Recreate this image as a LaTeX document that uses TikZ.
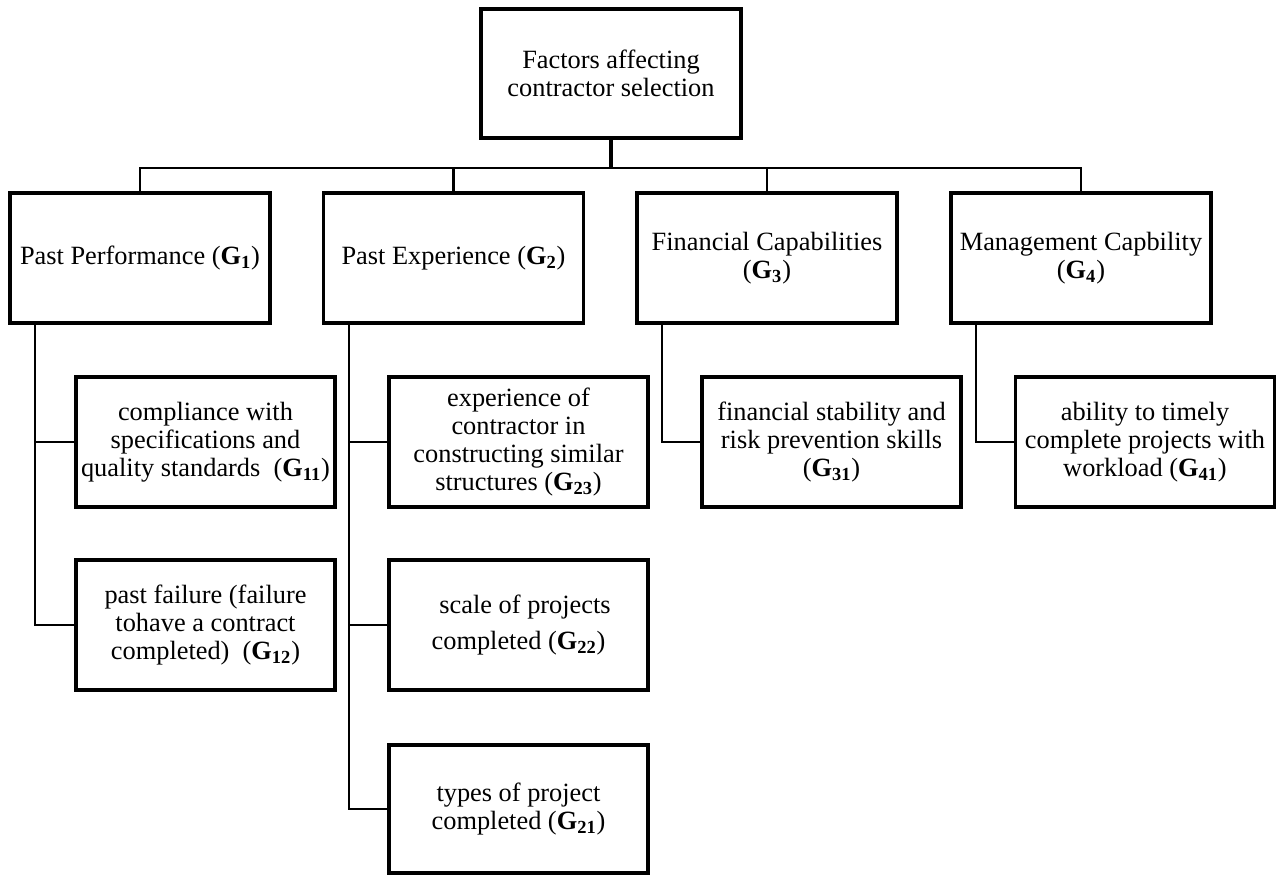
\documentclass[tikz,border=0pt]{standalone}
\usepackage{fontspec}
\setmainfont{Liberation Serif}
\usetikzlibrary{calc}

\newcommand{\gid}[1]{(\textbf{G\textsubscript{#1}})}

\begin{document}
\begin{tikzpicture}[
  box/.style={draw, line width=2.1pt, minimum width=5.2cm, minimum height=2.6cm,
    align=center, inner sep=2pt, font=\fontsize{15}{16}\selectfont},
  link/.style={line width=1.3pt},
  stem/.style={line width=2.1pt}]
\useasboundingbox (0,0) rectangle (25.54,-17.5);
% goal and the four criteria
\node[box, minimum height=2.58cm] (root) at (12.22,-1.47) {Factors affecting\\contractor selection};
\node[box] (pp) at (2.8,-5.16) {Past Performance \gid{1}};
\node[box] (pe) at (9.07,-5.16) {Past Experience \gid{2}};
\node[box] (fc) at (15.34,-5.16) {Financial Capabilities\\\gid{3}};
\node[box] (mc) at (21.62,-5.16) {Management Capbility\\\gid{4}};
% sub-criteria
\node[box, minimum width=5.18cm] (g11) at (4.11,-8.84) {compliance with\\specifications and\\quality standards\ \ \gid{11}};
\node[box, minimum width=5.18cm] (g12) at (4.11,-12.5) {past failure (failure\\tohave a contract\\completed)\ \ \gid{12}};
\node[box, minimum width=5.18cm] (g23) at (10.37,-8.84) {experience of\\contractor in\\constructing similar\\structures \gid{23}};
\node[box, minimum width=5.18cm] (g22) at (10.37,-12.5) {\ \ scale of projects\\[5pt]completed \gid{22}};
\node[box, minimum width=5.18cm, minimum height=2.56cm] (g21) at (10.37,-16.18) {types of project\\completed \gid{21}};
\node[box, minimum width=5.18cm] (g31) at (16.63,-8.84) {financial stability and\\risk prevention skills\\\gid{31}};
\node[box, minimum width=5.18cm] (g41) at (22.9,-8.84) {ability to timely\\complete projects with\\workload \gid{41}};
% connectors
\draw[stem] (root.south) -- ++(0,-0.56) coordinate (bus);
\foreach \n in {pp,pe,fc,mc}
  \draw[link] (bus) -| (\n.north);
\foreach \p/\c in {pp/g11, pp/g12, pe/g23, pe/g22, pe/g21, fc/g31, mc/g41}
  \draw[link] ([xshift=0.54cm]\p.south west) |- (\c.west);
\end{tikzpicture}
\end{document}
